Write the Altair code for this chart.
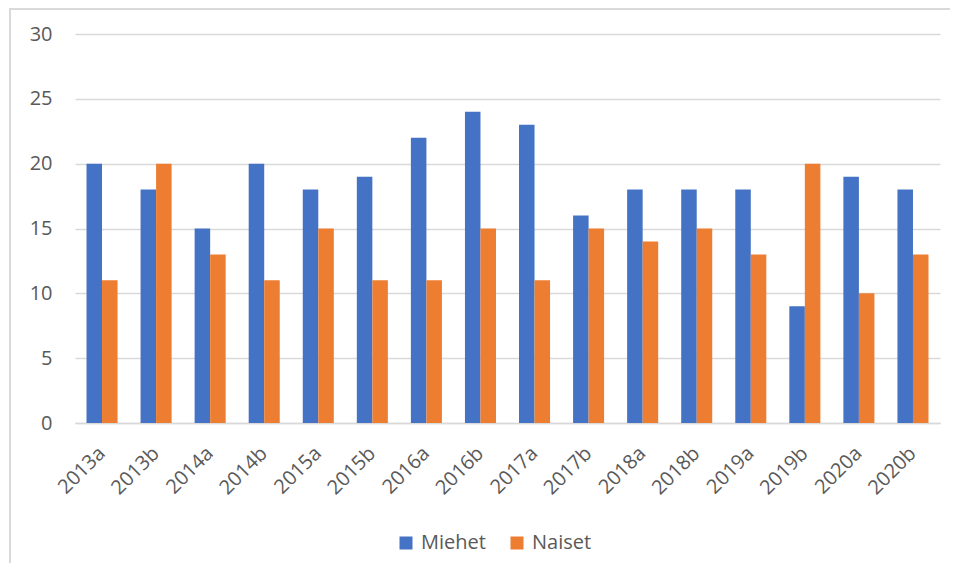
import altair as alt
import pandas as pd

categories = ["2013a", "2013b", "2014a", "2014b", "2015a", "2015b", "2016a", "2016b",
              "2017a", "2017b", "2018a", "2018b", "2019a", "2019b", "2020a", "2020b"]
miehet = [20, 18, 15, 20, 18, 19, 22, 24, 23, 16, 18, 18, 18, 9, 19, 18]
naiset = [11, 20, 13, 11, 15, 11, 11, 15, 11, 15, 14, 15, 13, 20, 10, 13]
series = ["Miehet", "Naiset"]
colors = ["#4472C4", "#ED7D31"]

rows = []
for i, c in enumerate(categories):
    rows.append({"kausi": c, "sarja": "Miehet", "arvo": miehet[i]})
    rows.append({"kausi": c, "sarja": "Naiset", "arvo": naiset[i]})
df = pd.DataFrame(rows)

FONT = "Open Sans"
TXT = "#595959"
GRID = "#d9d9d9"

bars = alt.Chart(df).mark_bar().encode(
    x=alt.X("kausi:N", sort=categories, title=None,
            scale=alt.Scale(paddingInner=0.426, paddingOuter=0.213),
            axis=alt.Axis(labelAngle=-45, labelAlign="right", labelBaseline="middle",
                          labelPadding=27, ticks=False, domainColor=GRID, domainWidth=1.5,
                          labelFont=FONT, labelFontSize=20, labelColor=TXT, grid=False)),
    xOffset=alt.XOffset("sarja:N", sort=series, scale=alt.Scale(paddingInner=0, paddingOuter=0)),
    y=alt.Y("arvo:Q", title=None,
            scale=alt.Scale(domain=[0, 30]),
            axis=alt.Axis(values=[0, 5, 10, 15, 20, 25, 30], ticks=False, domain=False,
                          gridColor=GRID, gridWidth=1.5, labelPadding=23,
                          labelFont=FONT, labelFontSize=20, labelColor=TXT)),
    color=alt.Color("sarja:N", sort=series, title=None,
                    scale=alt.Scale(domain=series, range=colors),
                    legend=alt.Legend(orient="none", legendX=321, legendY=499,
                                      direction="horizontal", symbolType="square",
                                      symbolSize=169, symbolStrokeWidth=0,
                                      labelFont=FONT, labelFontSize=20, labelColor=TXT,
                                      labelOffset=5, columnPadding=21)),
)

border = alt.Chart(pd.DataFrame({"a": [0]})).mark_rect(
    filled=False, stroke=GRID, strokeWidth=2
).encode(
    x=alt.value(-65), x2=alt.value(900), y=alt.value(-25), y2=alt.value(600)
)

chart = alt.layer(border, bars).properties(
    width=865, height=389,
    autosize=alt.AutoSizeParams(type="none"),
    padding={"left": 67, "top": 26, "right": 10, "bottom": 140},
).configure_view(stroke=None)

chart.save("out.html", embed_options={"renderer": "svg", "actions": False})
